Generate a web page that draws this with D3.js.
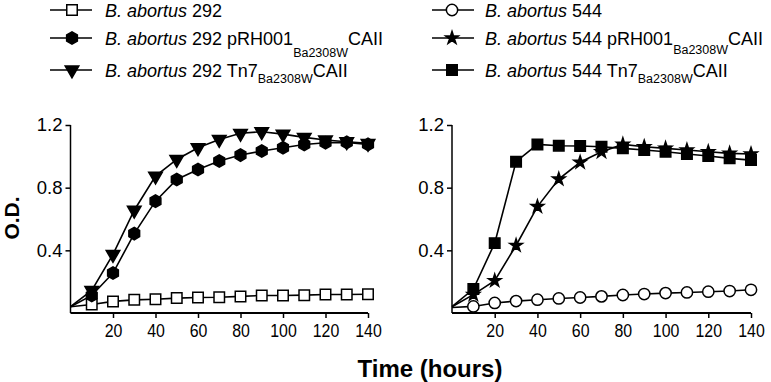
<!DOCTYPE html>
<html>
<head>
<meta charset="utf-8">
<script src="https://cdn.jsdelivr.net/npm/d3@7"></script>
<style>
  body { margin: 0; background: #fff; }
  svg { display: block; font-family: "Liberation Sans", Arial, sans-serif; }
</style>
</head>
<body>
<script>
const hours = [0, 10, 20, 30, 40, 50, 60, 70, 80, 90, 100, 110, 120, 130, 140];
const xTicks = [20, 40, 60, 80, 100, 120, 140];
const yTicks = [0.4, 0.8, 1.2];

// left panel, strain 292
const wt292 = [0.04, 0.054, 0.074, 0.084, 0.088, 0.095, 0.099, 0.101, 0.106, 0.112, 0.112, 0.114, 0.118, 0.118, 0.12];
const prh292 = [0.04, 0.112, 0.255, 0.507, 0.714, 0.852, 0.916, 0.97, 1.008, 1.034, 1.055, 1.076, 1.087, 1.089, 1.076];
const tn292 = [0.04, 0.144, 0.374, 0.656, 0.874, 0.98, 1.055, 1.108, 1.147, 1.157, 1.142, 1.121, 1.104, 1.093, 1.083];

// right panel, strain 544
const wt544 = [0.035, 0.042, 0.064, 0.076, 0.085, 0.093, 0.099, 0.106, 0.115, 0.121, 0.127, 0.131, 0.136, 0.14, 0.148];
const prh544 = [0.04, 0.117, 0.206, 0.431, 0.679, 0.855, 0.962, 1.029, 1.076, 1.061, 1.051, 1.04, 1.029, 1.019, 1.015];
const tn544 = [0.04, 0.153, 0.446, 0.966, 1.076, 1.068, 1.066, 1.061, 1.051, 1.04, 1.029, 1.015, 1.002, 0.987, 0.976];

const width = 771, height = 382;
const svg = d3.select("body").append("svg")
    .attr("width", width)
    .attr("height", height);

const hexPath = (r) => {
    const pts = d3.range(6).map(i => {
        const a = Math.PI / 6 + i * Math.PI / 3;
        return [r * Math.cos(a), r * Math.sin(a)];
    });
    return d3.line()(pts) + "Z";
};

const marker = (type) => {
    if (type === "square") return d3.symbol(d3.symbolSquare, 110)();
    if (type === "circle") return d3.symbol(d3.symbolCircle, 100)();
    if (type === "tri") return d3.symbol(d3.symbolTriangle, 80)();
    if (type === "star") return d3.symbol(d3.symbolStar, 50)();
    return hexPath(6.2);
};
const rotateOf = (type) => type === "tri" ? "rotate(180)" : "";

const panels = [
    { x0: 70.5, x1: 368, series: [
        { values: wt292, type: "square", fill: "#fff" },
        { values: prh292, type: "hex", fill: "#000" },
        { values: tn292, type: "tri", fill: "#000" }
    ] },
    { x0: 452, x1: 751, series: [
        { values: wt544, type: "circle", fill: "#fff" },
        { values: prh544, type: "star", fill: "#000" },
        { values: tn544, type: "square", fill: "#000" }
    ] }
];

const yScale = d3.scaleLinear().domain([0, 1.2]).range([313, 125]);

panels.forEach(p => {
    const xScale = d3.scaleLinear().domain([0, 140]).range([p.x0, p.x1]);
    const g = svg.append("g");

    const xAxis = d3.axisBottom(xScale).tickValues(xTicks).tickSize(5).tickSizeOuter(0);
    const gx = g.append("g")
        .attr("transform", "translate(0," + 313 + ")")
        .call(xAxis);
    gx.select(".domain").attr("stroke-width", 2).attr("d", "M" + p.x0 + ",0H" + p.x1);
    gx.selectAll(".tick line").attr("stroke-width", 1.5);
    gx.selectAll(".tick text")
        .attr("font-size", 18.5)
        .attr("fill", "#000")
        .attr("y", 11)
        .attr("transform", "scale(0.86,1)");

    const yAxis = d3.axisLeft(yScale).tickValues(yTicks).tickSize(5).tickSizeOuter(0).tickFormat(d3.format(".1f"));
    const gy = g.append("g")
        .attr("transform", "translate(" + p.x0 + ",0)")
        .call(yAxis);
    gy.select(".domain").attr("stroke-width", 1.5).attr("d", "M0,125V313");
    gy.selectAll(".tick line").attr("stroke-width", 1.5);
    gy.selectAll(".tick text")
        .attr("font-size", 18.5)
        .attr("fill", "#000")
        .attr("x", -8);

    const line = d3.line()
        .x((d, i) => xScale(hours[i]))
        .y(d => yScale(d));

    p.series.forEach(s => {
        g.append("path")
            .datum(s.values)
            .attr("fill", "none")
            .attr("stroke", "#000")
            .attr("stroke-width", 1.6)
            .attr("d", line);
    });
    p.series.forEach(s => {
        g.selectAll(null)
            .data(s.values.slice(1))
            .enter()
            .append("path")
            .attr("d", marker(s.type))
            .attr("transform", (d, i) => "translate(" + xScale(hours[i + 1]) + "," + yScale(d) + ")" + rotateOf(s.type))
            .attr("fill", s.fill)
            .attr("stroke", "#000")
            .attr("stroke-width", 1.5);
    });
});

// axis titles
svg.append("text")
    .attr("transform", "translate(19,218) rotate(-90)")
    .attr("text-anchor", "middle")
    .attr("font-size", 21)
    .attr("font-weight", "bold")
    .text("O.D.");

svg.append("text")
    .attr("x", 430)
    .attr("y", 377)
    .attr("text-anchor", "middle")
    .attr("font-size", 24)
    .attr("font-weight", "bold")
    .text("Time (hours)");

// legends
const legendRows = [
    { lx: 50, mx: 72, tx: 105, y: 10, type: "square", fill: "#fff", num: "292", plasmid: null, sub: 0 },
    { lx: 50, mx: 72, tx: 105, y: 38, type: "hex", fill: "#000", num: "292", plasmid: "pRH001", sub: 12 },
    { lx: 50, mx: 72, tx: 105, y: 70, type: "tri", fill: "#000", num: "292", plasmid: "Tn7", sub: 6 },
    { lx: 432, mx: 452, tx: 485, y: 10, type: "circle", fill: "#fff", num: "544", plasmid: null, sub: 0 },
    { lx: 432, mx: 452, tx: 485, y: 38, type: "star", fill: "#000", num: "544", plasmid: "pRH001", sub: 9 },
    { lx: 432, mx: 452, tx: 485, y: 70, type: "square", fill: "#000", num: "544", plasmid: "Tn7", sub: 6 }
];

legendRows.forEach(r => {
    svg.append("line")
        .attr("x1", r.lx).attr("x2", r.lx + 42)
        .attr("y1", r.y).attr("y2", r.y)
        .attr("stroke", "#000")
        .attr("stroke-width", 1.5);
    svg.append("path")
        .attr("d", marker(r.type))
        .attr("transform", "translate(" + r.mx + "," + r.y + ")" + rotateOf(r.type))
        .attr("fill", r.fill)
        .attr("stroke", "#000")
        .attr("stroke-width", 1.5);
    const t = svg.append("text")
        .attr("x", r.tx)
        .attr("y", r.y + 6.5)
        .attr("font-size", 18);
    t.append("tspan").attr("font-style", "italic").text("B. abortus");
    t.append("tspan").text(" " + r.num + (r.plasmid ? " " + r.plasmid : ""));
    if (r.plasmid) {
        t.append("tspan").attr("font-size", 12.5).attr("dy", r.sub).text("Ba2308W");
        t.append("tspan").attr("dy", -r.sub).text("CAII");
    }
});
</script>
</body>
</html>
